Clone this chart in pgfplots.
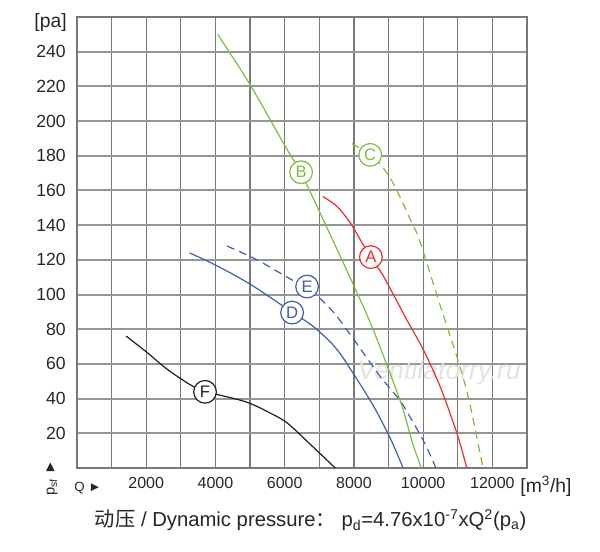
\documentclass[border=0pt]{standalone}
\usepackage{pgfplots}
\pgfplotsset{compat=1.18}
\usepackage{fontspec}
\setmainfont{Liberation Sans}
\newfontfamily\cjk{Noto Sans CJK SC}
\definecolor{gridv}{RGB}{120,120,120}
\definecolor{gridh}{RGB}{150,150,150}
\definecolor{cA}{RGB}{238,45,45}
\definecolor{cB}{RGB}{125,190,60}
\definecolor{cD}{RGB}{60,95,175}
\definecolor{cF}{RGB}{30,30,30}
\begin{document}
\begin{tikzpicture}
\useasboundingbox (-57.75pt,-63pt) rectangle (392.25pt,351pt);
\begin{axis}[
  scale only axis, width=337.5pt, height=338.25pt,
  xmin=0, xmax=13000, ymin=0, ymax=260,
  xtick={2000,4000,...,12000},
  minor xtick={1000,3000,...,11000},
  ytick={20,40,...,240},
  grid=both,
  x grid style={draw=gridv, line width=0.9pt},
  y grid style={draw=gridh, line width=1.5pt},
  axis line style={draw=gridv, line width=1pt},
  major tick length=0pt, minor tick length=0pt,
  scaled x ticks=false, scaled y ticks=false,
  /pgf/number format/assume math mode=true,
  /pgf/number format/1000 sep={},
  tick label style={text=black!85},
  xticklabel style={font=\fontsize{12}{12}\selectfont, yshift=-3.5pt},
  yticklabel style={font=\fontsize{13.2}{13.2}\selectfont, xshift=-5pt},
  clip=false,
]
% watermark
\node[font=\fontsize{20}{20}\selectfont\itshape, text=gray!22] at (axis cs:10460,55) {Ventilatorry.ru};

% F (black)
\addplot[cF, line width=0.9pt, smooth] coordinates {
 (1420,76) (2000,67) (2600,57) (3270,48) (3700,44) (4130,42) (4900,38) (5500,32.5) (6070,26) (6800,12.5) (7460,0)};
% D (blue solid)
\addplot[cD, line width=0.9pt, smooth] coordinates {
 (3250,124) (4000,117) (5000,106) (6200,90) (6800,82) (7300,73) (7600,66) (7900,57) (8300,44.5) (8670,32) (9100,15) (9420,0)};
% E (blue dashed)
\addplot[cD, line width=0.9pt, smooth, dash pattern=on 6pt off 4pt] coordinates {
 (4330,128) (5200,120) (6250,108) (6650,104.5) (7400,90) (8000,74) (8750,53) (9250,41) (9400,37) (10000,16) (10370,0)};
% B (green solid)
\addplot[cB, line width=0.9pt, smooth] coordinates {
 (4066,250) (5000,221) (6000,186) (6474,170) (7000,148) (8000,105) (8500,82.5) (9000,57) (9400,35) (9700,14) (9950,0)};
% C (green dashed)
\addplot[cB, line width=0.9pt, smooth, dash pattern=on 6pt off 4pt] coordinates {
 (7940,187) (8470,180.5) (8806,174) (9095,165.5) (9384,154) (9673,141.4) (9865,133) (10110,118) (10250,109) (10600,87) (11070,58) (11360,36) (11730,0)};
% A (red)
\addplot[cA, line width=0.9pt, smooth] coordinates {
 (7100,156.5) (7500,151) (7890,141.5) (8230,130) (8490,121.6) (8810,112) (9046,103.5) (9526,85.5) (10010,68) (10490,47) (10975,20) (11263,0)};

% curve labels
\tikzset{lab/.style={circle, fill=white, inner sep=0pt, minimum size=17pt, line width=0.9pt, font=\fontsize{12.5}{12.5}\selectfont}}
\node[lab, draw=cA, text=cA] at (axis cs:8490,121.6) {A};
\node[lab, draw=cB, text=cB] at (axis cs:6474,170.5) {B};
\node[lab, draw=cB, text=cB] at (axis cs:8470,180.5) {C};
\node[lab, draw=cD, text=cD] at (axis cs:6214,89.6) {D};
\node[lab, draw=cD, text=cD] at (axis cs:6647,104.6) {E};
\node[lab, draw=cF, text=cF] at (axis cs:3699,43.9) {F};

% axis texts
\node[anchor=east, inner sep=0pt, font=\fontsize{14.5}{14.5}\selectfont, text=black!85] at (axis cs:-290,257) {[pa]};
\node[anchor=west, inner sep=0pt, font=\fontsize{14.5}{14.5}\selectfont, text=black!85] at (axis cs:12803,-10.4) {[m\textsuperscript{3}/h]};
\node[anchor=west, inner sep=0pt, font=\fontsize{10}{10}\selectfont, text=black!85] at (axis cs:-87,-11.5) {Q ►};
\node[anchor=west, rotate=90, inner sep=0pt, font=\fontsize{11}{11}\selectfont, text=black!85] at (axis cs:-723,-16) {p\textsubscript{sf} ►};
\node[inner sep=0pt, font=\fontsize{15.2}{15.2}\selectfont, text=black!85] at (axis cs:6749,-30) {{\cjk 动压} / Dynamic pressure{\cjk ：}\ p\textsubscript{d}=4.76x10\textsuperscript{-7}xQ\textsuperscript{2}(p\textsubscript{a})};
\end{axis}
\end{tikzpicture}
\end{document}
